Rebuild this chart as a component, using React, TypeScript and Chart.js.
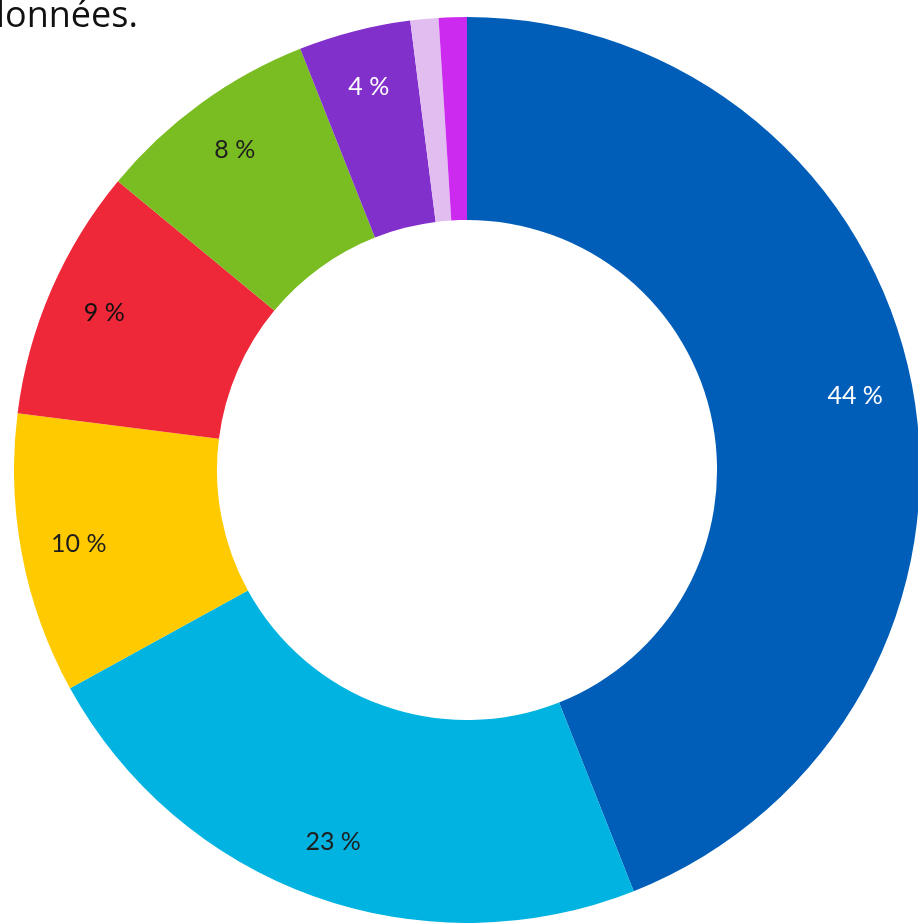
import React, { useEffect, useRef } from "react";
import { Chart, registerables } from "chart.js";

Chart.register(...registerables);

const categories = ["A", "B", "C", "D", "E", "F", "G", "H"];
const values = [44, 23, 10, 9, 8, 4, 1, 1];
const segmentColors = ["#005EB8", "#00B3E0", "#FFCB00", "#EE2839", "#7ABD22", "#8230CC", "#E1BDF0", "#CC2AEE"];
const labelTexts = ["44 %", "23 %", "10 %", "9 %", "8 %", "4 %", "", ""];
const labelColors = ["#FFFFFF", "#1E1E1E", "#1E1E1E", "#111111", "#1E1E1E", "#FFFFFF", "#1E1E1E", "#1E1E1E"];
const titleText = "données.";

const LABEL_FONT = "25px Lato";

const ringLabels = {
  id: "ringLabels",
  afterDatasetsDraw(chart: any) {
    const meta = chart.getDatasetMeta(0);
    const ctx = chart.ctx;
    ctx.save();
    ctx.font = LABEL_FONT;
    ctx.textAlign = "center";
    ctx.textBaseline = "middle";
    meta.data.forEach((arc: any, i: number) => {
      const text = labelTexts[i];
      if (!text) return;
      const p = arc.getProps(["x", "y", "startAngle", "endAngle", "innerRadius", "outerRadius"], true);
      const mid = (p.startAngle + p.endAngle) / 2;
      const r = p.innerRadius + (p.outerRadius - p.innerRadius) * 0.715;
      ctx.fillStyle = labelColors[i];
      ctx.fillText(text, p.x + Math.cos(mid) * r, p.y + Math.sin(mid) * r);
    });
    ctx.restore();
  },
};

export default function App() {
  const ref = useRef<HTMLCanvasElement>(null);
  useEffect(() => {
    let chart: Chart | null = null;
    let cancelled = false;
    const build = () => {
      if (cancelled || !ref.current) return;
      chart = new Chart(ref.current, {
        type: "doughnut",
        data: {
          labels: categories,
          datasets: [
            {
              data: values,
              backgroundColor: segmentColors,
              borderWidth: 0,
              offset: 0,
              hoverOffset: 0,
            },
          ],
        },
        options: {
          animation: false,
          responsive: false,
          maintainAspectRatio: false,
          cutout: "55.2%",
          layout: { padding: 0 },
          plugins: {
            legend: { display: false },
            tooltip: { enabled: false },
            title: { display: false },
          },
        },
        plugins: [ringLabels],
      });
    };
    const fonts: any = (document as any).fonts;
    if (fonts && fonts.load) {
      fonts.load(LABEL_FONT, "0123456789 %").then(build, build);
    } else {
      build();
    }
    return () => {
      cancelled = true;
      if (chart) chart.destroy();
    };
  }, []);

  return (
    <div
      style={{
        position: "fixed",
        left: 0,
        top: 0,
        width: 918,
        height: 923,
        overflow: "hidden",
        background: "#ffffff",
      }}
    >
      <span style={{ fontFamily: "Lato", position: "absolute", left: -200, top: -200 }}>0</span>
      <canvas
        ref={ref}
        width={906}
        height={906}
        style={{ position: "absolute", left: 14, top: 17, width: 906, height: 906 }}
      />
      <div
        style={{
          position: "absolute",
          left: -17,
          top: -11,
          fontFamily: "'Open Sans', sans-serif",
          fontSize: 36,
          color: "#111111",
          whiteSpace: "nowrap",
          lineHeight: "normal",
        }}
      >
        {titleText}
      </div>
    </div>
  );
}
